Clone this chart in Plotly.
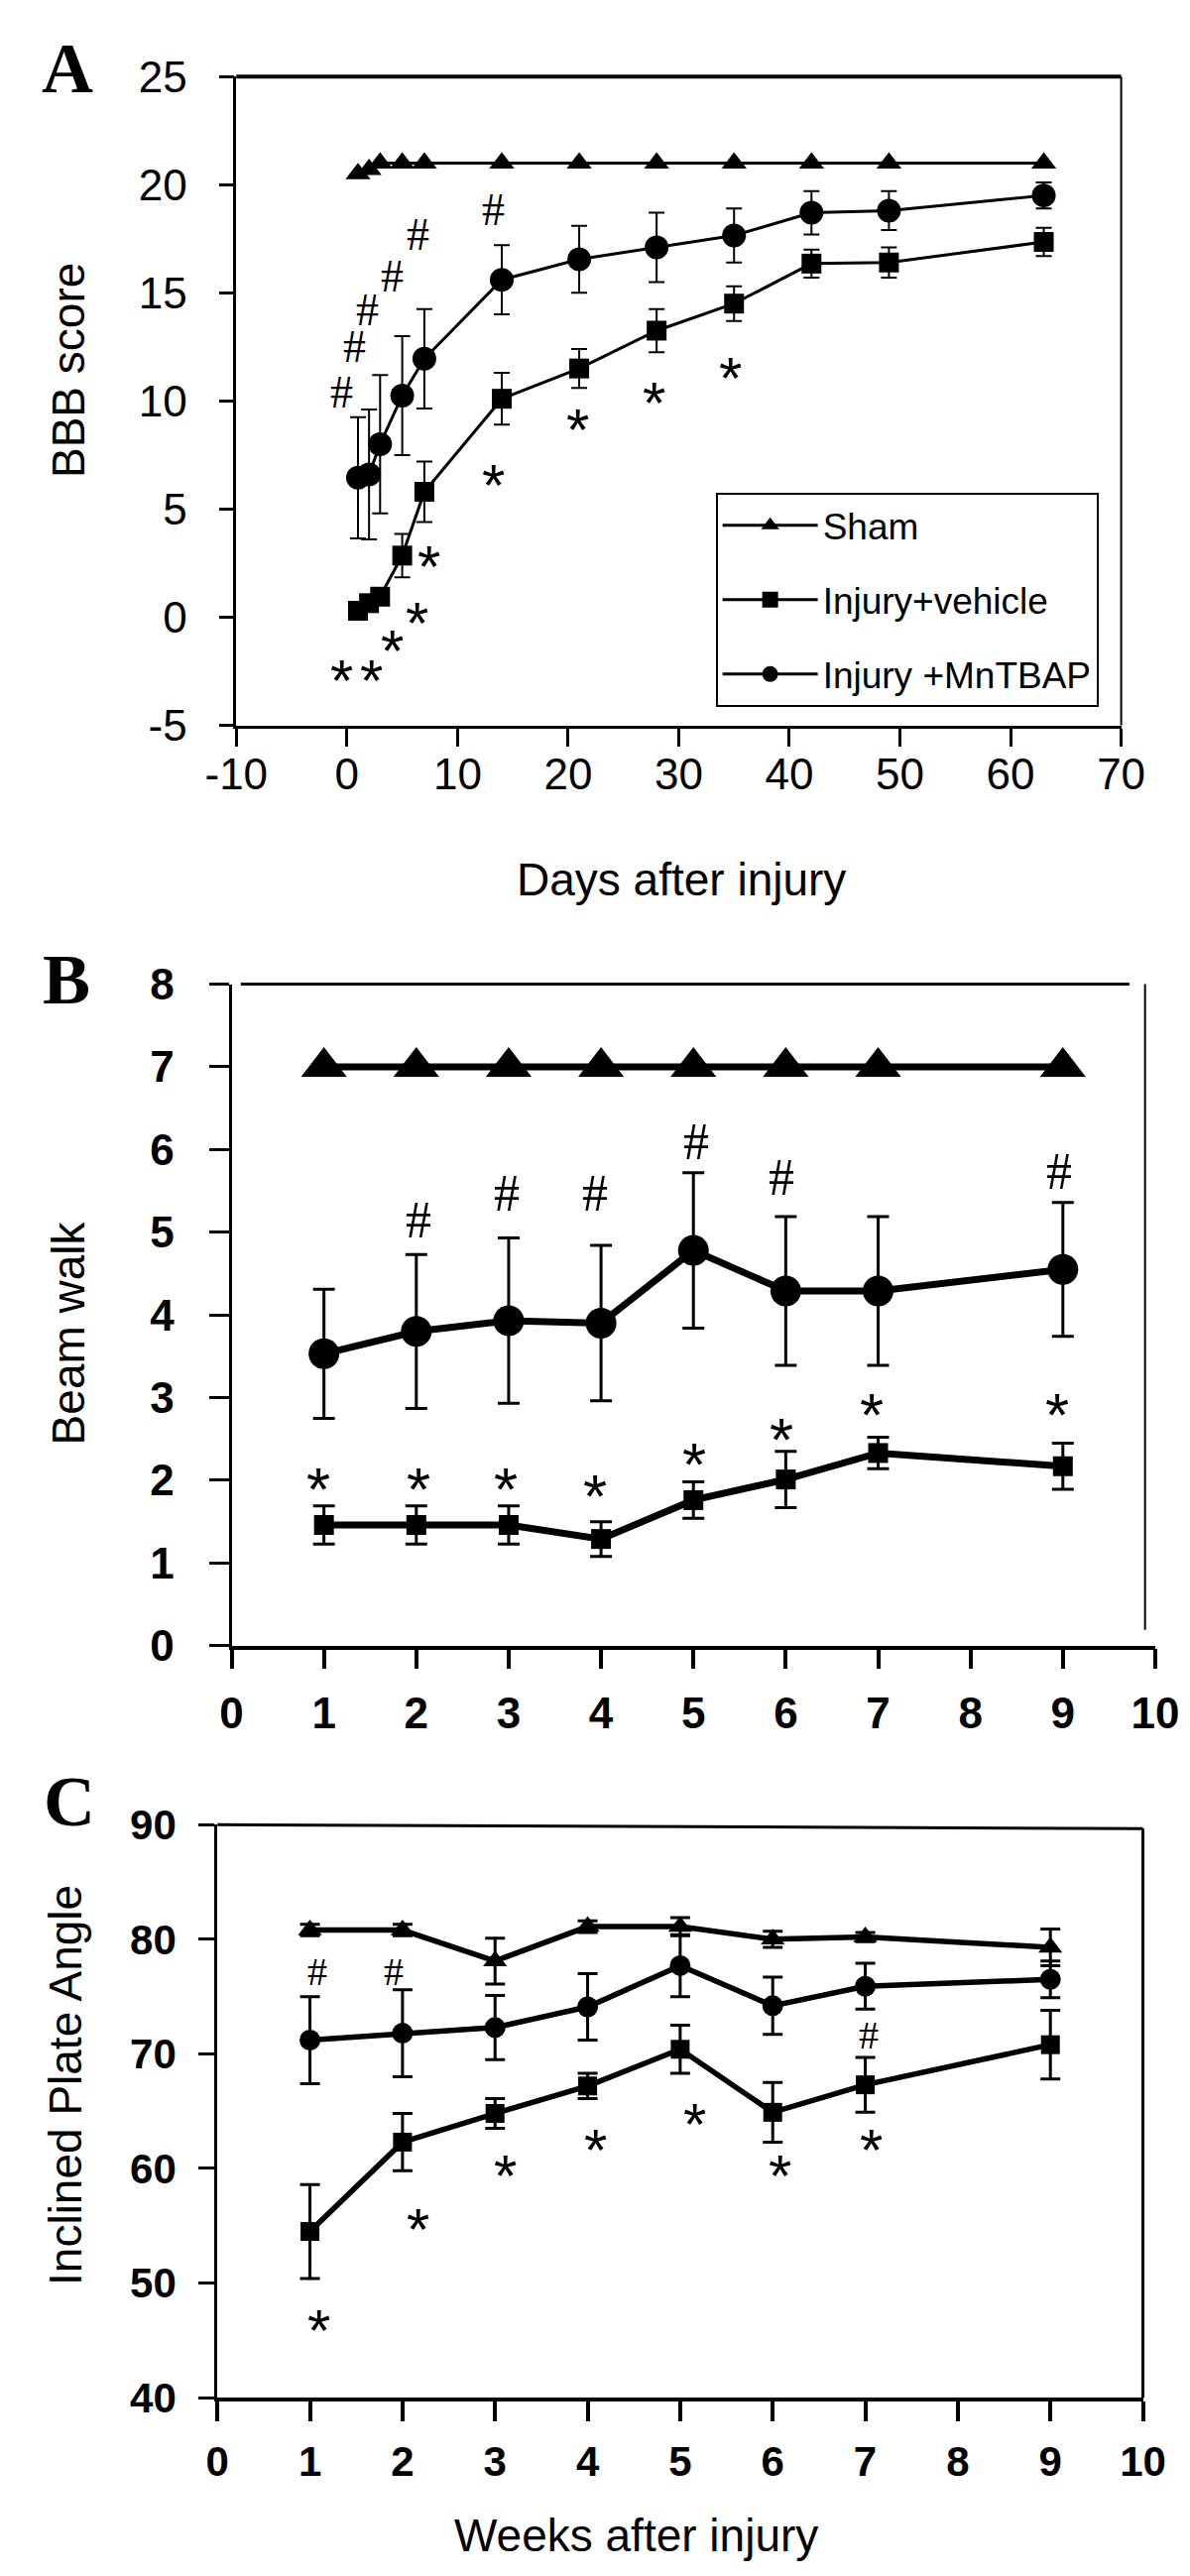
import plotly.graph_objects as go

# ---------------- data ----------------
# Panel A : BBB score vs days after injury
days_A = [1, 2, 3, 5, 7, 14, 21, 28, 35, 42, 49, 63]
sham_A = [20.5, 20.7, 21, 21, 21, 21, 21, 21, 21, 21, 21, 21]
vehicle_A = [0.3, 0.65, 0.95, 2.85, 5.8, 10.1, 11.5, 13.25, 14.5, 16.35, 16.4, 17.35]
vehicle_A_err = [0.3, 0.3, 0.3, 1.0, 1.4, 1.2, 0.9, 1.0, 0.8, 0.65, 0.7, 0.65]
mntbap_A = [6.45, 6.6, 8.0, 10.25, 11.95, 15.6, 16.55, 17.1, 17.65, 18.7, 18.8, 19.5]
mntbap_A_err = [2.8, 3.0, 3.2, 2.75, 2.3, 1.6, 1.55, 1.6, 1.25, 1.0, 0.9, 0.6]
hash_A_x = [-0.46, 0.66, 1.84, 4.1, 6.45, 13.2]
hash_A_y = [10.4, 12.5, 14.2, 15.75, 17.7, 18.85]
star_A_x = [-0.46, 2.2, 4.1, 6.3, 7.4, 13.2, 20.9, 27.8, 34.7]
star_A_y = [-2.3, -2.3, -0.9, 0.35, 3.0, 6.75, 9.3, 10.55, 11.7]
xticks_A = [-10, 0, 10, 20, 30, 40, 50, 60, 70]
xticklabels_A = ["-10", "0", "10", "20", "30", "40", "50", "60", "70"]
yticks_A = [-5, 0, 5, 10, 15, 20, 25]
yticklabels_A = ["-5", "0", "5", "10", "15", "20", "25"]

# Panel B : Beam walk vs weeks
weeks_B = [1, 2, 3, 4, 5, 6, 7, 9]
sham_B = [7, 7, 7, 7, 7, 7, 7, 7]
vehicle_B = [1.46, 1.46, 1.46, 1.29, 1.76, 2.01, 2.33, 2.17]
vehicle_B_err = [0.23, 0.23, 0.23, 0.21, 0.22, 0.34, 0.19, 0.28]
mntbap_B = [3.53, 3.8, 3.93, 3.9, 4.78, 4.29, 4.29, 4.55]
mntbap_B_err = [0.78, 0.93, 1.0, 0.94, 0.94, 0.9, 0.9, 0.81]
hash_B_x = [2.02, 2.98, 3.93, 5.03, 5.95, 8.96]
hash_B_y = [5.15, 5.47, 5.47, 6.09, 5.66, 5.74]
star_B_x = [0.94, 2.02, 2.97, 3.94, 5.01, 5.95, 6.93, 8.94]
star_B_y = [2.06, 2.06, 2.06, 1.98, 2.37, 2.66, 2.96, 2.96]
xticks_B = [0, 1, 2, 3, 4, 5, 6, 7, 8, 9, 10]
yticks_B = [0, 1, 2, 3, 4, 5, 6, 7, 8]

# Panel C : Inclined plate angle vs weeks
weeks_C = [1, 2, 3, 4, 5, 6, 7, 9]
sham_C = [80.8, 80.8, 78.1, 81.1, 81.1, 80.0, 80.2, 79.3]
sham_C_err = [0.5, 0.5, 2.0, 0.5, 0.8, 0.7, 0.4, 1.6]
mntbap_C = [71.2, 71.8, 72.3, 74.1, 77.7, 74.2, 75.9, 76.5]
mntbap_C_err = [3.8, 3.8, 2.8, 2.9, 2.7, 2.5, 2.0, 1.6]
vehicle_C = [54.5, 62.3, 64.8, 67.2, 70.4, 64.9, 67.3, 70.8]
vehicle_C_err = [4.1, 2.5, 1.3, 1.1, 2.1, 2.6, 2.4, 3.0]
hash_C_x = [1.08, 1.9, 7.04]
hash_C_y = [77.2, 77.2, 71.6]
star_C_x = [1.10, 2.17, 3.11, 4.08, 5.16, 6.08, 7.06]
star_C_y = [47.1, 55.9, 60.6, 62.8, 65.1, 60.6, 62.8]
xticks_C = [0, 1, 2, 3, 4, 5, 6, 7, 8, 9, 10]
yticks_C = [40, 50, 60, 70, 80, 90]

series_names = ["Sham", "Injury+vehicle", "Injury +MnTBAP"]

# ---------------- layout helpers ----------------
W, H = 1200, 2598
SANS = "Liberation Sans, Arial, Helvetica, sans-serif"
SERIF = "Liberation Serif, Times New Roman, Times, serif"


def fx(p):
    return p / W


def fy(p):
    return 1 - p / H


fig = go.Figure()


def add_series(xs, ys, err, xa, ya, symbol, msize, lw, ew, ecap, name, legend):
    fig.add_trace(go.Scatter(
        x=xs, y=ys, xaxis=xa, yaxis=ya, mode="lines+markers", name=name,
        showlegend=legend, legendgroup=name,
        line=dict(color="black", width=lw),
        marker=dict(symbol=symbol, size=msize, color="black"),
        error_y=(dict(type="data", array=err, visible=True, color="black",
                      thickness=ew, width=ecap) if err is not None else None),
        cliponaxis=False,
    ))


# Panel A
add_series(days_A, sham_A, None, "x", "y", "triangle-up", 22, 3, 2, 8, series_names[0], True)
add_series(days_A, vehicle_A, vehicle_A_err, "x", "y", "square", 20, 3, 2, 8, series_names[1], True)
add_series(days_A, mntbap_A, mntbap_A_err, "x", "y", "circle", 24, 3, 2, 8, series_names[2], True)
# Panel B
add_series(weeks_B, sham_B, None, "x2", "y2", "triangle-up", 40, 7, 3, 11, series_names[0], False)
add_series(weeks_B, mntbap_B, mntbap_B_err, "x2", "y2", "circle", 31, 7, 3, 11, series_names[2], False)
add_series(weeks_B, vehicle_B, vehicle_B_err, "x2", "y2", "square", 20, 7, 3, 11, series_names[1], False)
# Panel C
add_series(weeks_C, sham_C, sham_C_err, "x3", "y3", "triangle-up", 21, 5.5, 3, 10, series_names[0], False)
add_series(weeks_C, mntbap_C, mntbap_C_err, "x3", "y3", "circle", 21, 5.5, 3, 10, series_names[2], False)
add_series(weeks_C, vehicle_C, vehicle_C_err, "x3", "y3", "square", 19, 5.5, 3, 10, series_names[1], False)

annotations = []


def marks(xs, ys, xref, yref, text, family, size, shift, box_h=None):
    for x, y in zip(xs, ys):
        a = dict(x=x, y=y, xref=xref, yref=yref, text=text,
                 showarrow=False, xanchor="center", yanchor="middle",
                 yshift=shift, font=dict(family=family, size=size, color="black"))
        if box_h is not None:
            a["height"] = box_h
            a["valign"] = "middle"
        annotations.append(a)


marks(hash_A_x, hash_A_y, "x", "y", "#", SERIF, 46, 0, 37)
marks(star_A_x, star_A_y, "x", "y", "*", SANS, 60, -14)
marks(hash_B_x, hash_B_y, "x2", "y2", "#", SERIF, 52, 0)
marks(star_B_x, star_B_y, "x2", "y2", "*", SANS, 62, -14)
marks(hash_C_x, hash_C_y, "x3", "y3", "#", SERIF, 40, 0)
marks(star_C_x, star_C_y, "x3", "y3", "*", SANS, 60, -14)


def label(text, xp, yp, family, size, angle=0, bold=False):
    annotations.append(dict(x=fx(xp), y=fy(yp), xref="paper", yref="paper",
                            text=("<b>%s</b>" % text) if bold else text,
                            showarrow=False, xanchor="center", yanchor="middle",
                            textangle=angle, font=dict(family=family, size=size, color="black")))


label("A", 29, 37, SERIF, 72, bold=True)
label("B", 28, 973, SERIF, 72, bold=True)
label("C", 31, 1818, SERIF, 72, bold=True)
label("BBB score", 31, 347, SANS, 46, angle=-90)
label("Days after injury", 679, 870, SANS, 46)
label("Beam walk", 30, 1337, SANS, 46, angle=-90)
label("Inclined Plate Angle", 27, 2110, SANS, 46, angle=-90)
label("Weeks after injury", 631, 2573, SANS, 46)

shapes = []


def frame_line(xref, yref, x0, y0, x1, y1, w):
    shapes.append(dict(type="line", xref=xref, yref=yref, x0=x0, y0=y0, x1=x1, y1=y1,
                       line=dict(color="black", width=w), layer="above"))


frame_line("x domain", "y domain", 0, 1, 1, 1, 4)
frame_line("x domain", "y domain", 1, 0, 1, 1, 2)
frame_line("x2 domain", "y2 domain", 0.01, 1, 0.972, 1, 3)
frame_line("x2 domain", "y2 domain", 0.989, 0.024, 0.989, 1, 2)
frame_line("x3 domain", "y3 domain", 0, 1, 1, 0.993, 3)
frame_line("x3 domain", "y3 domain", 1, 0, 1, 0.993, 3)


def axis(domain, rng, tickvals, ticktext, anchor, ticklen, lw, fsize, bold, standoff):
    return dict(domain=domain, range=rng, tickmode="array", tickvals=tickvals,
                ticktext=ticktext, anchor=anchor, showgrid=False, zeroline=False,
                showline=True, linecolor="black", linewidth=lw, ticks="outside",
                ticklen=ticklen, tickwidth=lw, tickcolor="black",
                ticklabelstandoff=standoff,
                tickfont=dict(family=SANS, size=fsize, color="black",
                              weight="bold" if bold else "normal"))


lay = dict(
    width=W, height=H, autosize=False,
    margin=dict(l=0, r=0, t=0, b=0),
    paper_bgcolor="white", plot_bgcolor="white",
    xaxis=axis([fx(208), fx(1144)], [-10, 70], xticks_A, xticklabels_A, "y", 18, 3, 44, False, -9),
    yaxis=axis([fy(712), fy(45)], [-5, 25], yticks_A, yticklabels_A, "x", 15, 2.5, 44, False, 23),
    xaxis2=axis([fx(203), fx(1180)], [0, 10], xticks_B, [str(v) for v in xticks_B], "y2", 20, 3.5, 44, True, 7),
    yaxis2=axis([fy(1658), fy(978)], [0, 8], yticks_B, [str(v) for v in yticks_B], "x2", 20, 3, 44, True, 26),
    xaxis3=axis([fx(188), fx(1167)], [0, 10], xticks_C, [str(v) for v in xticks_C], "y3", 20, 3.5, 42, True, 5),
    yaxis3=axis([fy(2431), fy(1842)], [40, 90], yticks_C, [str(v) for v in yticks_C], "x3", 16, 3, 42, True, 14),
    legend=dict(x=fx(715), y=fy(473), xanchor="left", yanchor="top",
                bgcolor="white", bordercolor="black", borderwidth=2,
                font=dict(family=SANS, size=37, color="black"),
                tracegroupgap=24, itemwidth=96, traceorder="grouped"),
    annotations=annotations,
    shapes=shapes,
    showlegend=True,
)
fig.update_layout(**lay)
fig.write_html("out.html")
